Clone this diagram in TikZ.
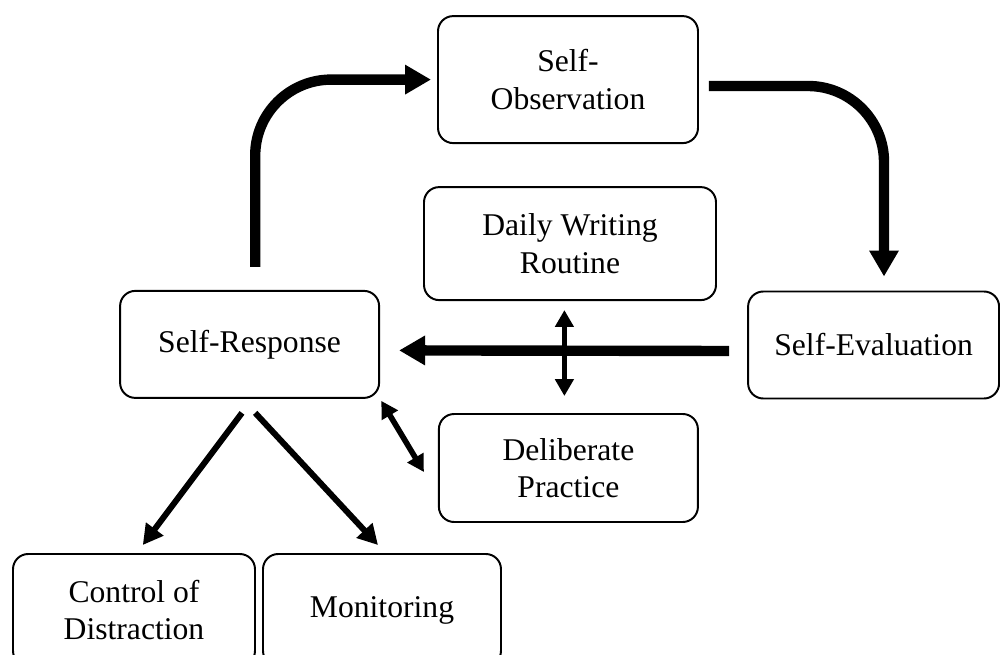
\documentclass[tikz,border=0pt]{standalone}
\usepackage{fontspec}
\setmainfont{Liberation Serif}
\usetikzlibrary{arrows.meta,calc}
\tikzset{
 stagebox/.style={draw,rounded corners=.38cm,line width=1.4pt,align=center,
  inner sep=0pt,font=\fontsize{22.5pt}{26.5pt}\selectfont},
 cyclearrow/.style={line width=.26cm,-{Triangle[length=.65cm,width=.7cm]}},
 linkarrow/.style={line width=.14cm,
  {Triangle[length=.42cm,width=.45cm]}-{Triangle[length=.42cm,width=.45cm]}},
 brancharrow/.style={line width=.15cm,-{Triangle[length=.5cm,width=.52cm]}}
}

\begin{document}
\begin{tikzpicture}
 \useasboundingbox (0,0) rectangle (25,-16.375);
 \node[stagebox,minimum width=6.5cm,minimum height=3.175cm] (obs) at (14.2,-1.99)
  {Self-\\Observation};
 \node[stagebox,minimum width=7.3cm,minimum height=2.825cm] (daily) at (14.25,-6.09)
  {Daily Writing\\Routine};
 \node[stagebox,minimum width=6.475cm,minimum height=2.675cm] (resp) at (6.24,-8.61)
  {Self-Response};
 \node[stagebox,minimum width=6.275cm,minimum height=2.675cm] (eval) at (21.84,-8.625)
  {Self-Evaluation};
 \node[stagebox,minimum width=6.475cm,minimum height=2.7cm] (delib) at (14.21,-11.7)
  {Deliberate\\Practice};
 \node[stagebox,minimum width=6.05cm,minimum height=2.8cm] (ctrl) at (3.35,-15.25)
  {Control of\\Distraction};
 \node[stagebox,minimum width=5.95cm,minimum height=2.8cm] (mon) at (9.55,-15.25)
  {Monitoring};
 \draw[cyclearrow,rounded corners=1.9cm] ([xshift=.14cm,yshift=.575cm]resp.north)
  |- ([xshift=-.15cm]obs.west);
 \draw[cyclearrow,rounded corners=1.9cm] ([xshift=.25cm,yshift=-.16cm]obs.east)
  -| ([xshift=.26cm,yshift=.35cm]eval.north);
 \draw[cyclearrow] ([xshift=-.45cm,yshift=-.15cm]eval.west)
  -- ([xshift=.475cm,yshift=-.15cm]resp.east);
 \draw[linkarrow] ($(daily.south)+(-.14,-.225)$)
  -- ($(daily.south |- delib.north)+(-.14,.425)$);
 \draw[linkarrow] ([xshift=.03cm,yshift=-.05cm]resp.south east)
  -- ([xshift=-.35cm,yshift=-.1cm]delib.west);
 \draw[brancharrow] ([xshift=-.19cm,yshift=-.35cm]resp.south)
  -- ([xshift=.22cm,yshift=.2cm]ctrl.north);
 \draw[brancharrow] ([xshift=.14cm,yshift=-.35cm]resp.south)
  -- ([xshift=-.1cm,yshift=.2cm]mon.north);
\end{tikzpicture}
\end{document}
